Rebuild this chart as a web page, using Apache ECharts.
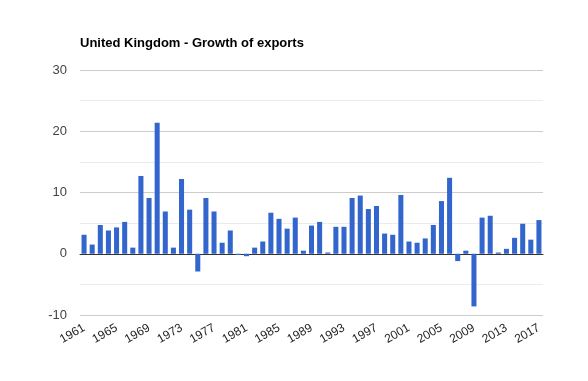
<!DOCTYPE html>
<html><head><meta charset="utf-8">
<script src="https://cdn.jsdelivr.net/npm/echarts@6/dist/echarts.min.js"></script>
<style>html,body{margin:0;padding:0;background:#fff}#c{width:588px;height:381px}</style>
</head><body><div id="c"></div>
<script>
var years = [];
for (var y = 1961; y <= 2017; y++) years.push(String(y));
var growth = [
  3.1, 1.5, 4.7, 3.8, 4.3, 5.2, 1.0, 12.7, 9.1, 21.4,
  6.9, 1.0, 12.2, 7.2, -2.9, 9.1, 6.9, 1.8, 3.8, -0.2,
  -0.4, 1.0, 2.0, 6.7, 5.7, 4.1, 5.9, 0.5, 4.6, 5.2,
  0.2, 4.4, 4.4, 9.1, 9.5, 7.3, 7.8, 3.3, 3.1, 9.6,
  2.0, 1.8, 2.5, 4.7, 8.6, 12.4, -1.2, 0.5, -8.6, 5.9,
  6.2, 0.2, 0.8, 2.6, 4.9, 2.3, 5.5
];
var titleText = 'United Kingdom - Growth of exports';

var chart = echarts.init(document.getElementById('c'), null, {renderer: 'canvas'});
chart.setOption({
  animation: false,
  textStyle: {fontFamily: 'Liberation Sans, Arial, sans-serif'},
  title: {
    text: titleText, left: 75, top: 32,
    textStyle: {fontSize: 13, fontWeight: 'bold', color: '#000', fontFamily: 'Liberation Sans, Arial, sans-serif'}
  },
  grid: {left: 80, right: 45, top: 70, bottom: 66, containLabel: false},
  xAxis: {
    type: 'category', data: years,
    axisLine: {show: true, onZero: true, lineStyle: {color: '#333', width: 1}},
    axisTick: {show: false},
    axisLabel: {interval: 3, rotate: 30, fontSize: 12, color: '#222', margin: 12,
      fontFamily: 'Liberation Sans, Arial, sans-serif'}
  },
  yAxis: {
    type: 'value', min: -10, max: 30, interval: 10,
    axisLine: {show: false}, axisTick: {show: false},
    axisLabel: {fontSize: 13, color: '#444', margin: 13, fontFamily: 'Liberation Sans, Arial, sans-serif'},
    splitLine: {lineStyle: {color: '#ccc'}},
    minorTick: {show: false, splitNumber: 2},
    minorSplitLine: {show: true, lineStyle: {color: '#ebebeb'}}
  },
  series: [{
    type: 'bar', data: growth, barWidth: '62%',
    itemStyle: {color: '#3366cc'}
  }]
});
</script></body></html>
